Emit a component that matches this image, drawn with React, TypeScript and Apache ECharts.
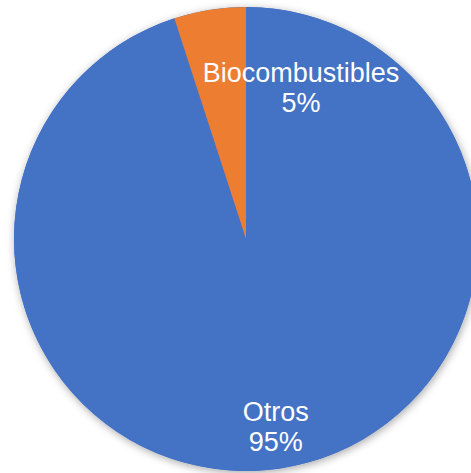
import React, { useEffect, useRef } from "react";
import * as echarts from "echarts";

const categories = ["Otros", "Biocombustibles"];
const values = [95, 5];
const colors = ["#4472C4", "#ED7D31"];

export default function App() {
  const ref = useRef<HTMLDivElement>(null);
  useEffect(() => {
    if (!ref.current) return;
    const chart = echarts.init(ref.current, undefined, { renderer: "svg" });
    const center = [246, 239];
    const radius = 232;
    // label anchor positions (fraction of radius, angle clockwise from top in degrees)
    const labelPolar = [
      { r: 0.82, a: 171 },
      { r: 0.693, a: 20 },
    ];
    chart.setOption({
      animation: false,
      backgroundColor: "#ffffff",
      series: [
        {
          type: "pie",
          silent: true,
          center,
          radius,
          z: 1,
          label: { show: false },
          labelLine: { show: false },
          itemStyle: {
            color: "#4472C4",
            shadowBlur: 8,
            shadowColor: "rgba(0,0,0,0.35)",
            shadowOffsetX: 1,
            shadowOffsetY: 2,
          },
          data: [{ name: "bg", value: 1 }],
        },
        {
          type: "pie",
          center,
          radius,
          z: 2,
          startAngle: 90,
          clockwise: true,
          itemStyle: { borderWidth: 0 },
          label: {
            show: true,
            position: "inside",
            color: "#ffffff",
            fontFamily: "Liberation Sans, Arial, sans-serif",
            fontSize: 27,
            lineHeight: 30,
            align: "center",
            verticalAlign: "middle",
            formatter: (p: any) => `${p.name}\n${p.value}%`,
          },
          labelLine: { show: false },
          labelLayout: (p: any) => {
            const lp = labelPolar[p.dataIndex];
            const ang = (lp.a * Math.PI) / 180;
            return {
              x: center[0] + Math.sin(ang) * lp.r * radius,
              y: center[1] - Math.cos(ang) * lp.r * radius,
              align: "center",
              verticalAlign: "middle",
            };
          },
          data: categories.map((name, i) => ({
            name,
            value: values[i],
            itemStyle: { color: colors[i] },
          })),
        },
      ],
    });
    return () => chart.dispose();
  }, []);
  return (
    <div
      ref={ref}
      style={{ position: "absolute", left: 0, top: 0, width: 471, height: 473 }}
    />
  );
}
